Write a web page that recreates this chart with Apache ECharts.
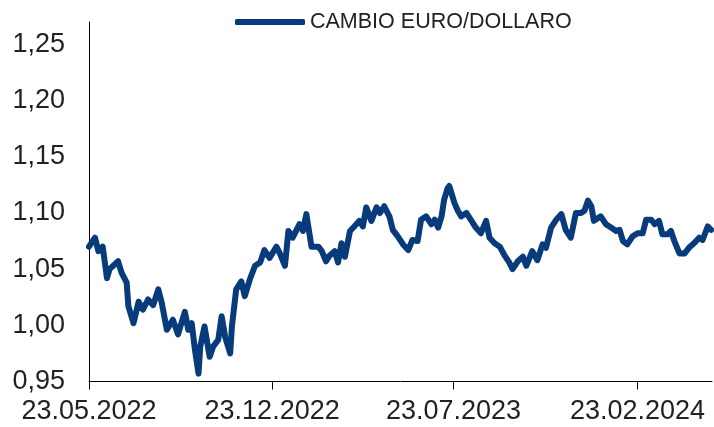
<!DOCTYPE html>
<html>
<head>
<meta charset="utf-8">
<script src="https://cdn.jsdelivr.net/npm/echarts@6/dist/echarts.min.js"></script>
<style>
  html, body { margin: 0; padding: 0; background: #fff; }
  #chart { width: 714px; height: 427px; }
</style>
</head>
<body>
<div id="chart"></div>
<script>
const dates = [
  '2022-05-23', '2022-05-30', '2022-06-03', '2022-06-08', '2022-06-13', '2022-06-16', '2022-06-26', '2022-06-30',
  '2022-07-06', '2022-07-08', '2022-07-14', '2022-07-20', '2022-07-25', '2022-07-31', '2022-08-06', '2022-08-12',
  '2022-08-16', '2022-08-22', '2022-08-29', '2022-09-04', '2022-09-12', '2022-09-16', '2022-09-20', '2022-09-24',
  '2022-09-28', '2022-09-30', '2022-10-05', '2022-10-11', '2022-10-15', '2022-10-21', '2022-10-25', '2022-10-29',
  '2022-11-04', '2022-11-06', '2022-11-11', '2022-11-17', '2022-11-21', '2022-11-27', '2022-12-03', '2022-12-09',
  '2022-12-14', '2022-12-20', '2022-12-28', '2023-01-01', '2023-01-07', '2023-01-11', '2023-01-16', '2023-01-24',
  '2023-01-28', '2023-02-01', '2023-02-07', '2023-02-15', '2023-02-19', '2023-02-24', '2023-02-28', '2023-03-06',
  '2023-03-10', '2023-03-14', '2023-03-18', '2023-03-24', '2023-03-29', '2023-04-04', '2023-04-08', '2023-04-12',
  '2023-04-18', '2023-04-24', '2023-04-28', '2023-05-03', '2023-05-09', '2023-05-13', '2023-05-19', '2023-05-25',
  '2023-05-31', '2023-06-05', '2023-06-11', '2023-06-15', '2023-06-21', '2023-06-27', '2023-07-01', '2023-07-05',
  '2023-07-09', '2023-07-12', '2023-07-16', '2023-07-18', '2023-07-20', '2023-07-24', '2023-07-28', '2023-08-01',
  '2023-08-07', '2023-08-13', '2023-08-18', '2023-08-24', '2023-08-30', '2023-09-03', '2023-09-09', '2023-09-15',
  '2023-09-20', '2023-09-26', '2023-09-30', '2023-10-06', '2023-10-12', '2023-10-16', '2023-10-23', '2023-10-29',
  '2023-11-04', '2023-11-08', '2023-11-14', '2023-11-20', '2023-11-26', '2023-12-01', '2023-12-07', '2023-12-13',
  '2023-12-19', '2023-12-23', '2023-12-27', '2023-12-31', '2024-01-03', '2024-01-11', '2024-01-17', '2024-01-23',
  '2024-01-29', '2024-02-02', '2024-02-06', '2024-02-11', '2024-02-17', '2024-02-23', '2024-02-29', '2024-03-04',
  '2024-03-10', '2024-03-14', '2024-03-19', '2024-03-23', '2024-03-29', '2024-04-02', '2024-04-06', '2024-04-12',
  '2024-04-18', '2024-04-23', '2024-04-29', '2024-05-05', '2024-05-09', '2024-05-15', '2024-05-19'
]
const rates = [
  1.070, 1.078, 1.066, 1.070, 1.042, 1.050, 1.057, 1.047,
  1.038, 1.017, 1.002, 1.021, 1.014, 1.023, 1.018, 1.032,
  1.020, 0.996, 1.005, 0.992, 1.012, 0.996, 1.002, 0.977,
  0.957, 0.981, 0.999, 0.972, 0.981, 0.987, 1.008, 0.990,
  0.975, 0.999, 1.032, 1.039, 1.026, 1.041, 1.053, 1.056,
  1.067, 1.060, 1.070, 1.064, 1.053, 1.084, 1.078, 1.090,
  1.084, 1.099, 1.070, 1.070, 1.066, 1.057, 1.062, 1.066,
  1.056, 1.073, 1.061, 1.084, 1.088, 1.093, 1.088, 1.105,
  1.093, 1.105, 1.100, 1.106, 1.097, 1.085, 1.079, 1.072,
  1.067, 1.076, 1.075, 1.094, 1.097, 1.090, 1.094, 1.087,
  1.097, 1.112, 1.122, 1.124, 1.119, 1.109, 1.102, 1.097,
  1.100, 1.093, 1.087, 1.082, 1.093, 1.078, 1.073, 1.070,
  1.063, 1.056, 1.050, 1.057, 1.061, 1.053, 1.066, 1.058,
  1.072, 1.069, 1.087, 1.094, 1.099, 1.085, 1.078, 1.100,
  1.100, 1.102, 1.111, 1.106, 1.093, 1.097, 1.090, 1.087,
  1.084, 1.085, 1.075, 1.072, 1.079, 1.082, 1.082, 1.094,
  1.094, 1.090, 1.093, 1.081, 1.081, 1.084, 1.075, 1.064,
  1.064, 1.069, 1.073, 1.078, 1.076, 1.088, 1.085
]
const tickDates = ['2022-05-23', '2022-12-23', '2023-07-23', '2024-02-23']
const startDate = '2022-05-23'
const endDate = '2024-05-20'
const seriesName = 'CAMBIO EURO/DOLLARO'

let chart = echarts.init(document.getElementById('chart'))

function toTime (s) {
  return +echarts.time.parse(s)
}

function pad (n) {
  return n < 10 ? '0' + n : '' + n
}

let data = []
for (let i = 0; i < dates.length; i++) {
  data.push([toTime(dates[i]), rates[i]])
}
let tickValues = tickDates.map(toTime)

let fontName = '"Liberation Sans", Arial, sans-serif'

chart.setOption({
  animation: false,
  color: ['#073b7b'],
  legend: {
    data: [seriesName],
    left: 235,
    top: 11,
    padding: 0,
    icon: 'roundRect',
    itemWidth: 70,
    itemHeight: 6,
    textStyle: { fontFamily: fontName, fontSize: 21.5, color: '#222' }
  },
  grid: {
    left: 89,
    right: 2,
    top: 22,
    bottom: 45.5,
    containLabel: false
  },
  xAxis: {
    type: 'value',
    min: toTime(startDate),
    max: toTime(endDate),
    splitLine: { show: false },
    axisLine: { lineStyle: { color: '#000', width: 1 } },
    axisTick: {
      customValues: tickValues,
      length: 8,
      lineStyle: { color: '#000' }
    },
    axisLabel: {
      customValues: tickValues,
      margin: 17,
      hideOverlap: false,
      fontFamily: fontName,
      fontSize: 27,
      color: '#222',
      formatter: function (value) {
        let d = new Date(value)
        return pad(d.getDate()) + '.' + pad(d.getMonth() + 1) + '.' + d.getFullYear()
      }
    }
  },
  yAxis: {
    type: 'value',
    min: 0.95,
    max: 1.27,
    interval: 0.05,
    splitLine: { show: false },
    axisLine: { show: true, lineStyle: { color: '#000', width: 1 } },
    axisTick: { show: false },
    axisLabel: {
      margin: 24,
      showMaxLabel: false,
      fontFamily: fontName,
      fontSize: 27,
      color: '#222',
      formatter: function (value) {
        if (Math.abs(value * 20 - Math.round(value * 20)) > 1e-6) return ''
        return value.toFixed(2).replace('.', ',')
      }
    }
  },
  series: [
    {
      name: seriesName,
      type: 'line',
      showSymbol: false,
      data: data,
      lineStyle: { width: 6, join: 'round', cap: 'round' }
    }
  ]
})
</script>
</body>
</html>
